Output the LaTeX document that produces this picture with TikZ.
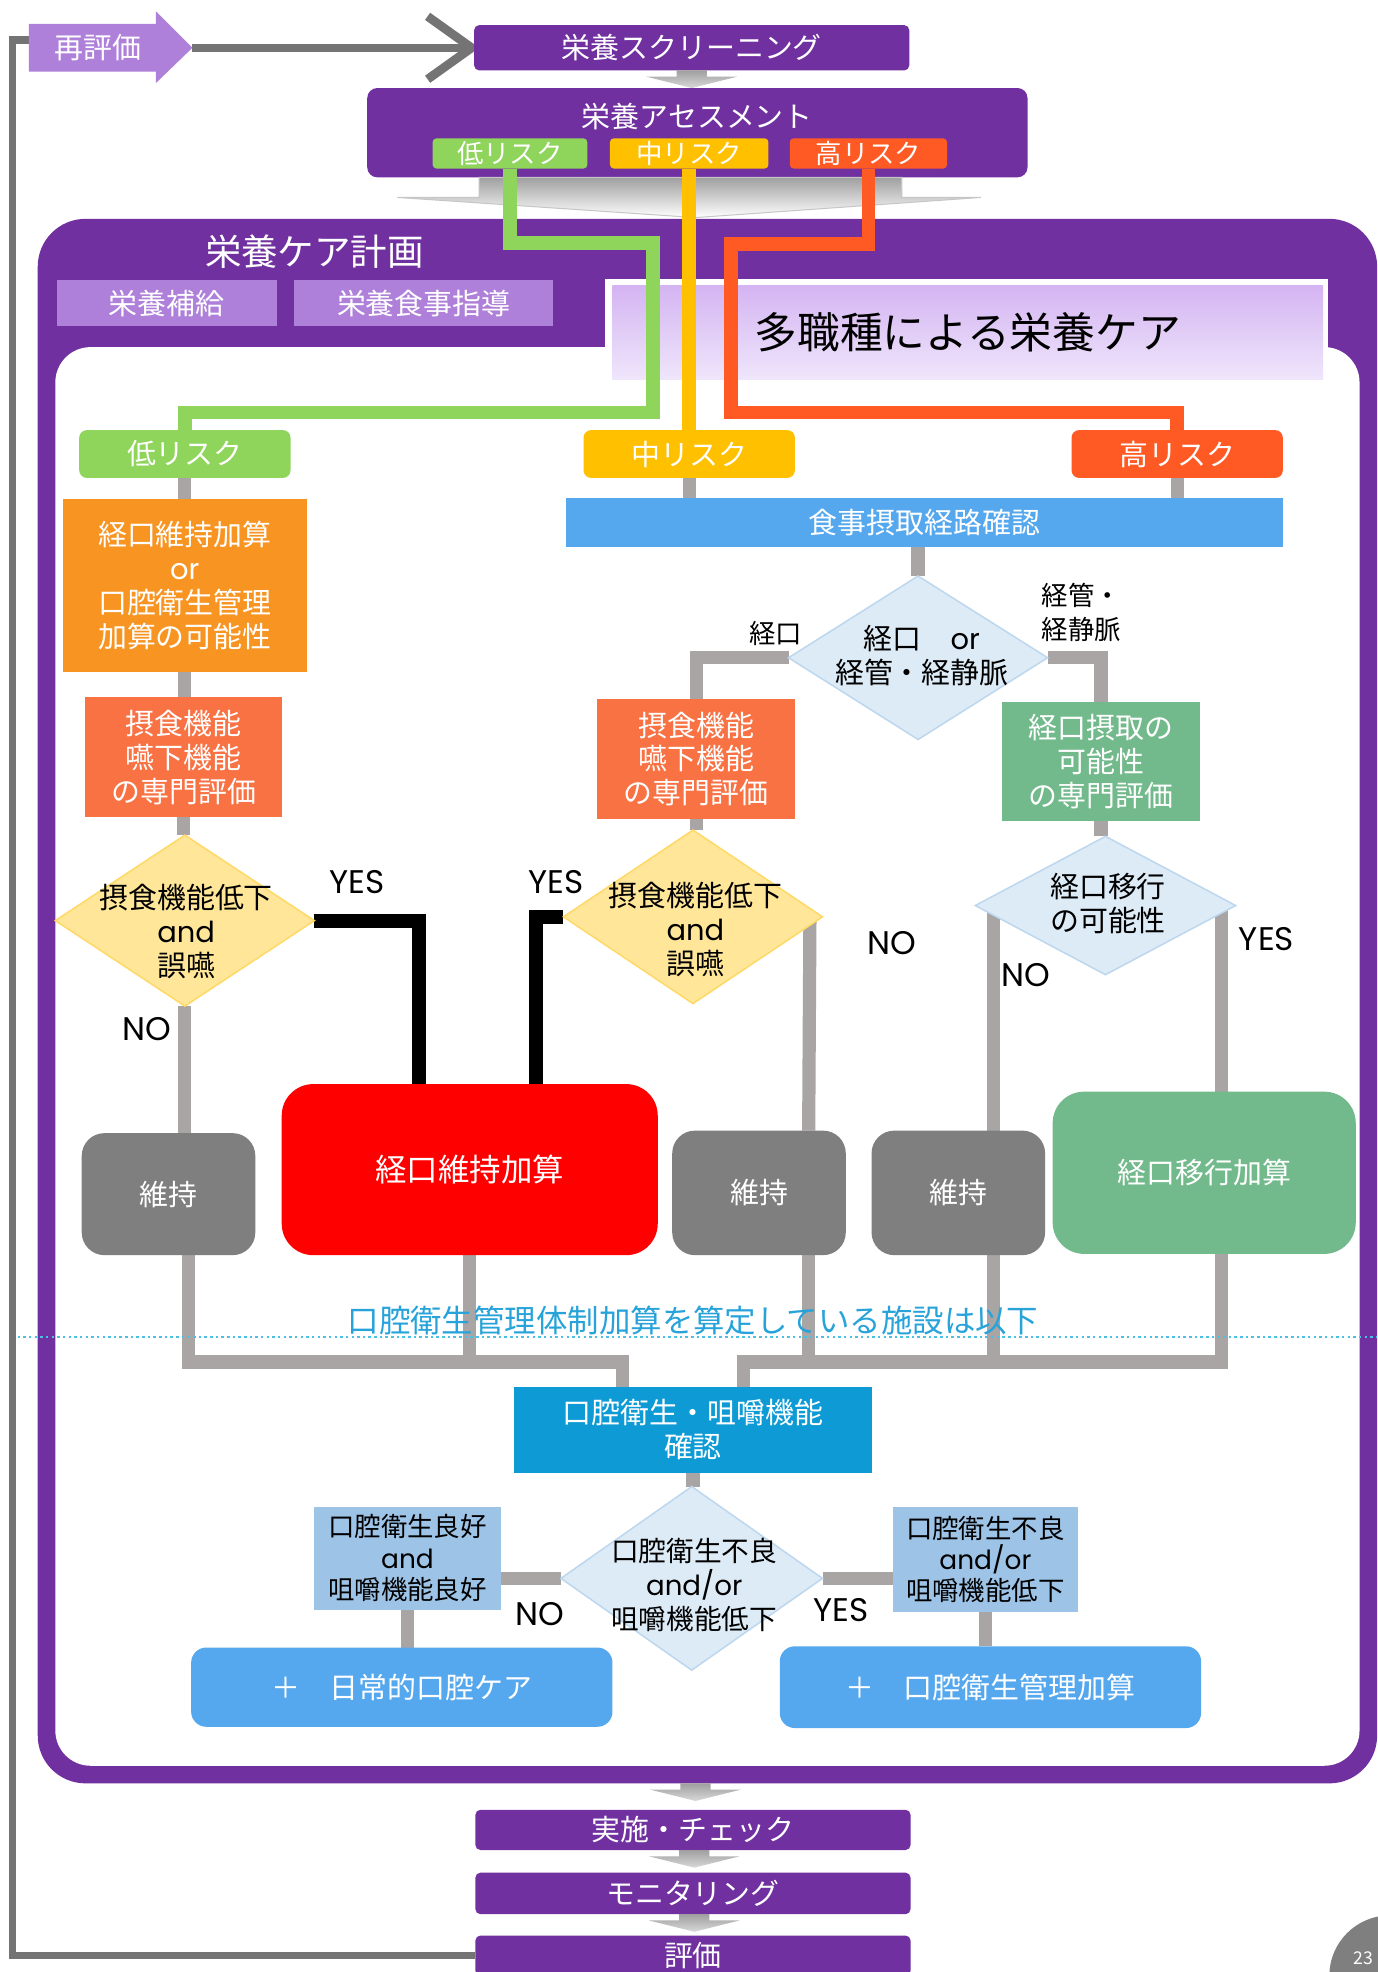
\documentclass[tikz,border=0pt]{standalone}
\usepackage{fontspec}
\setmainfont{Noto Sans CJK JP}
\newfontfamily\lat{Poppins}
\usetikzlibrary{shapes.geometric}
\definecolor{purp}{HTML}{7030A0}
\definecolor{lpurp}{HTML}{AF80D9}
\definecolor{rgreen}{HTML}{8FD45B}
\definecolor{ryellow}{HTML}{FFC000}
\definecolor{rred}{HTML}{FF5A24}
\definecolor{orng}{HTML}{F89421}
\definecolor{salmon}{HTML}{F87244}
\definecolor{ydia}{HTML}{FFE699}
\definecolor{ydiae}{HTML}{FFD966}
\definecolor{bbar}{HTML}{56A8EE}
\definecolor{bdia}{HTML}{DDEBF7}
\definecolor{bdiae}{HTML}{BDD7EE}
\definecolor{mgreen}{HTML}{72B98B}
\definecolor{dgray}{HTML}{7F7F7F}
\definecolor{cgray}{HTML}{A9A5A5}
\definecolor{lgray}{HTML}{747474}
\definecolor{oblue}{HTML}{0E9BD5}
\definecolor{lblue}{HTML}{9DC3E6}
\definecolor{cyantext}{HTML}{27A3DA}
\definecolor{cyanline}{HTML}{4DBFE2}
\definecolor{redbox}{HTML}{FF0000}
\definecolor{panA}{HTML}{D4B4F2}
\definecolor{panB}{HTML}{EFE6FB}
\pgfdeclarelayer{back}
\pgfdeclarelayer{lines}
\pgfsetlayers{back,lines,main}
\tikzset{
 nb/.style={rectangle, inner sep=0pt, outer sep=0pt, align=center},
 fA/.style={font=\fontsize{23}{27}\selectfont},
 pbox/.style={nb, fill=purp, text=white, rounded corners=4pt, fA},
 rsmall/.style={nb, text=white, rounded corners=3pt, font=\fontsize{21}{21}\selectfont, minimum height=24pt},
 rbig/.style={nb, text=white, rounded corners=6pt, font=\fontsize{23}{23}\selectfont, minimum width=168pt, minimum height=38pt},
 wbox/.style={nb, text=white, fA},
 gbox/.style={nb, fill=dgray, text=white, rounded corners=18pt, fA, minimum width=138pt},
 ydiam/.style={diamond, fill=ydia, draw=ydiae, line width=1.2pt, inner sep=0pt, outer sep=0pt},
 bdiam/.style={diamond, fill=bdia, draw=bdiae, line width=1.2pt, inner sep=0pt, outer sep=0pt},
 dtext/.style={align=center, inner sep=0pt, text=black, fA},
 yn/.style={inner sep=0pt, font=\lat\fontsize{26}{26}\selectfont, text=black},
 lab/.style={inner sep=0pt, font=\fontsize{21}{27}\selectfont, text=black, align=left},
 gline/.style={draw=cgray, line width=10.5pt},
 bline/.style={draw=black, line width=11pt},
 cline/.style={line width=11pt},
 loopline/.style={draw=lgray, line width=6pt},
 darr/.pic={\shade[top color=gray!75, bottom color=gray!30] (-12,0) -- (12,0) -- (12,5) -- (36,5) -- (0,14) -- (-36,5) -- (-12,5) -- cycle;}
}
\begin{document}
\begin{tikzpicture}[x=1pt,y=-1pt]
\useasboundingbox (0,0) rectangle (1095,1568);

\begin{pgfonlayer}{back}
\fill[white] (0,0) rectangle (1095,1568);
\fill[purp, rounded corners=38pt] (30,174) rectangle (1095,1418);
\fill[white, rounded corners=28pt] (44,276) rectangle (1081,1404);
\fill[white] (481,222) rectangle (1056,300);
\node[nb, top color=panA, bottom color=panB, minimum width=565pt, minimum height=75pt, font=\fontsize{34}{34}\selectfont] (panel) at (769.5,264.5) {多職種による栄養ケア};
\node[nb, fill=purp, rounded corners=8pt, minimum width=525pt, minimum height=71pt] (asm) at (554.5,105.5) {};
\shade[top color=gray!75, bottom color=white, draw=gray!45, line width=0.8pt] (381,141) -- (717,141) -- (717,157) -- (780,157) -- (553,173) -- (316,157) -- (381,157) -- cycle;
\end{pgfonlayer}

% top
\fill[lpurp] (23,19) -- (124,19) -- (124,9) -- (153,38) -- (124,66) -- (124,57) -- (23,57) -- cycle;
\node[nb, text=white, fA] (saihyoka) at (78,38) {再評価};
\coordinate (rsL) at (23,32);
\coordinate (rsT) at (153,38);
\node[pbox, minimum width=346pt, minimum height=36pt] (scr) at (550,38) {栄養スクリーニング};
\pic at (550,56) {darr};
\node[nb, text=white, fA] (asmT) at (554.5,93) {栄養アセスメント};
\node[rsmall, fill=rgreen, minimum width=123pt] (lowA) at (405.5,122) {低リスク};
\node[rsmall, fill=ryellow, minimum width=126pt] (midA) at (548,122) {中リスク};
\node[rsmall, fill=rred, minimum width=125pt] (highA) at (690.5,122) {高リスク};

% plan header
\node[nb, text=white, font=\fontsize{29}{29}\selectfont] (plan) at (250,200) {栄養ケア計画};
\node[nb, fill=lpurp, text=white, fA, minimum width=175pt, minimum height=36pt] (sup1) at (132.5,241) {栄養補給};
\node[nb, fill=lpurp, text=white, fA, minimum width=206pt, minimum height=36pt] (sup2) at (337,241) {栄養食事指導};

% risk boxes
\node[rbig, fill=rgreen] (lowB) at (147,361) {低リスク};
\node[rbig, fill=ryellow] (midB) at (548,361) {中リスク};
\node[rbig, fill=rred] (highB) at (936,361) {高リスク};

% left column
\node[wbox, fill=orng, minimum width=194pt, minimum height=137pt] (kaL) at (147,465.5) {経口維持加算\\{\lat or}\\口腔衛生管理\\加算の可能性};
\node[wbox, fill=salmon, minimum width=157pt, minimum height=96pt] (evL) at (146,602) {摂食機能\\嚥下機能\\の専門評価};
\node[ydiam, minimum width=206pt, minimum height=136pt] (dL) at (147,732) {};
\node[dtext] (dLt) at (148,741) {摂食機能低下\\{\lat and}\\誤嚥};
\node[yn] (yesL) at (284,701) {YES};
\node[yn] (noL) at (117,818) {NO};
\node[gbox, minimum height=97pt] (ijiL) at (134,949.5) {維持};
\node[nb, fill=redbox, text=white, rounded corners=25pt, minimum width=299pt, minimum height=136pt, font=\fontsize{25}{25}\selectfont] (red) at (373.5,930) {経口維持加算};

% middle / right
\node[wbox, fill=bbar, minimum width=570pt, minimum height=39pt] (bar) at (735,415.5) {食事摂取経路確認};
\node[bdiam, minimum width=206pt, minimum height=130pt] (dT) at (730,523) {};
\node[dtext] (dTt) at (733,521) {経口　{\lat or}\\経管・経静脈};
\node[lab] (lKo) at (617,504) {経口};
\node[lab, anchor=west] (lKk) at (828,487) {経管・\\経静脈};
\node[wbox, fill=salmon, minimum width=157pt, minimum height=95pt] (evM) at (553.5,603.5) {摂食機能\\嚥下機能\\の専門評価};
\node[wbox, fill=mgreen, minimum width=157pt, minimum height=95pt] (evR) at (875.5,605.5) {経口摂取の\\可能性\\の専門評価};
\node[ydiam, minimum width=206pt, minimum height=138pt] (dM) at (551,729) {};
\node[dtext] (dMt) at (553,739) {摂食機能低下\\{\lat and}\\誤嚥};
\node[yn] (yesM) at (442,701) {YES};
\node[yn] (noM) at (709,750) {NO};
\node[gbox, minimum height=99pt] (ijiM) at (603.5,948.5) {維持};
\node[bdiam, minimum width=207pt, minimum height=110pt] (dR) at (879,720) {};
\node[dtext] (dRt) at (881,718) {経口移行\\の可能性};
\node[yn] (noR) at (816,775) {NO};
\node[yn] (yesR) at (1007,747) {YES};
\node[gbox, minimum height=99pt] (ijiR) at (762,948.5) {維持};
\node[nb, fill=mgreen, text=white, rounded corners=25pt, minimum width=241pt, minimum height=129pt, fA] (trans) at (957.5,932.5) {経口移行加算};

\coordinate (xL) at (150,0);
\coordinate (xM) at (643,0);
\coordinate (xR1) at (790,0);
\coordinate (xR2) at (971,0);
\coordinate (jL) at (495,1083);
\coordinate (jR) at (591,1083);

% separator
\draw[cyanline, line width=1.6pt, dash pattern=on 2pt off 2.5pt] (14,1063) -- (1095,1063);
\node[nb, text=cyantext, font=\fontsize{25}{25}\selectfont] (note) at (551,1050) {口腔衛生管理体制加算を算定している施設は以下};

% bottom
\node[wbox, fill=oblue, minimum width=284pt, minimum height=68pt] (oral) at (551,1137) {口腔衛生・咀嚼機能\\確認};
\node[bdiam, minimum width=208pt, minimum height=146pt] (dB) at (550,1255) {};
\node[dtext, font=\fontsize{22}{27}\selectfont] (dBt) at (552,1260) {口腔衛生不良\\{\lat and/or}\\咀嚼機能低下};
\node[nb, fill=lblue, text=black, minimum width=148pt, minimum height=82pt, font=\fontsize{21}{25}\selectfont] (good) at (324,1239) {口腔衛生良好\\{\lat and}\\咀嚼機能良好};
\node[nb, fill=lblue, text=black, minimum width=147pt, minimum height=84pt, font=\fontsize{21}{25}\selectfont] (bad) at (783.5,1240) {口腔衛生不良\\{\lat and/or}\\咀嚼機能低下};
\node[yn] (noB) at (429,1283) {NO};
\node[yn] (yesB) at (669,1280) {YES};
\node[nb, fill=bbar, text=white, rounded corners=12pt, minimum width=335pt, minimum height=63pt, fA] (careL) at (319.5,1341.5) {＋　日常的口腔ケア};
\node[nb, fill=bbar, text=white, rounded corners=12pt, minimum width=335pt, minimum height=65pt, fA] (careR) at (787.5,1341.5) {＋　口腔衛生管理加算};

% after frame
\pic at (553,1418) {darr};
\node[pbox, minimum width=346pt, minimum height=32pt] (impl) at (551,1455) {実施・チェック};
\pic at (552,1471) {darr};
\node[pbox, minimum width=346pt, minimum height=33pt] (moni) at (551,1505.5) {モニタリング};
\pic at (552,1522) {darr};
\node[pbox, minimum width=346pt, minimum height=32pt] (hyoka) at (551,1555) {評価};

% page number
\fill[dgray] (1105,1571) circle (48pt);
\node[nb, text=white, font=\fontsize{14}{14}\selectfont] (pgno) at (1084,1557) {23};

\begin{pgfonlayer}{lines}
% risk lines
\draw[cline, rgreen] (lowA.south) -- (lowA.south |- 0,193) -| (519,328) -| (lowB.north);
\draw[cline, ryellow] (midA.south) -- (midB.north);
\draw[cline, rred] (highA.south) -- (highA.south |- 0,194) -| (581,328) -| (highB.north);
% gray connectors
\draw[gline] (lowB.south) -- (lowB.south |- kaL.north);
\draw[gline] (kaL.south) -- (kaL.south |- evL.north);
\draw[gline] (evL.south) -- (evL.south |- dL.north);
\draw[gline] (dL.south) -- (dL.south |- ijiL.north);
\draw[gline] (midB.south) -- (midB.south |- bar.north);
\draw[gline] (highB.south) -- (highB.south |- bar.north);
\draw[gline] (bar.south -| dT.north) -- (dT.north);
\draw[gline] (dT.west) -| (evM.north);
\draw[gline] (dT.east) -| (evR.north);
\draw[gline] (evM.south) -- (evM.south |- dM.north);
\draw[gline] (evR.south) -- (evR.south |- dR.north);
\draw[gline] ([xshift=-10pt]dM.east) -- (xM |- ijiM.north);
\draw[gline] (xR1 |- dR.west) -- (xR1 |- ijiR.north);
\draw[gline] (xR2 |- dR.east) -- (xR2 |- trans.north);
% collectors
\draw[gline] (xL |- ijiL.south) |- (jL) -- (jL |- oral.north);
\draw[gline] (red.south) -- (red.south |- jL);
\draw[gline] (jR |- oral.north) -- (jR) -- (xR2 |- jR) -- (xR2 |- trans.south);
\draw[gline] (xM |- ijiM.south) -- (xM |- jR);
\draw[gline] (xR1 |- ijiR.south) -- (xR1 |- jR);
% bottom decision
\draw[gline] (oral.south) -- (oral.south |- dB.north);
\draw[gline] (dB.west) -- (dB.west -| good.east);
\draw[gline] (dB.east) -- (dB.east -| bad.west);
\draw[gline] (good.south) -- (good.south |- careL.north);
\draw[gline] (bad.south) -- (bad.south |- careR.north);
% YES lines
\draw[bline] (dL.east) -| ([xshift=-40.5pt]red.north);
\draw[bline] (dM.west) -| ([xshift=52.5pt]red.north);
% loop
\draw[loopline] (hyoka.west) -| (10,32) -- (rsL);
\draw[loopline] (rsT) -- ([xshift=-3pt]scr.west);
\draw[lgray, line width=7pt] ([shift={(-37pt,-25pt)}]scr.west) -- ([xshift=-2pt]scr.west) -- ([shift={(-37pt,25pt)}]scr.west);
\end{pgfonlayer}
\end{tikzpicture}
\end{document}
